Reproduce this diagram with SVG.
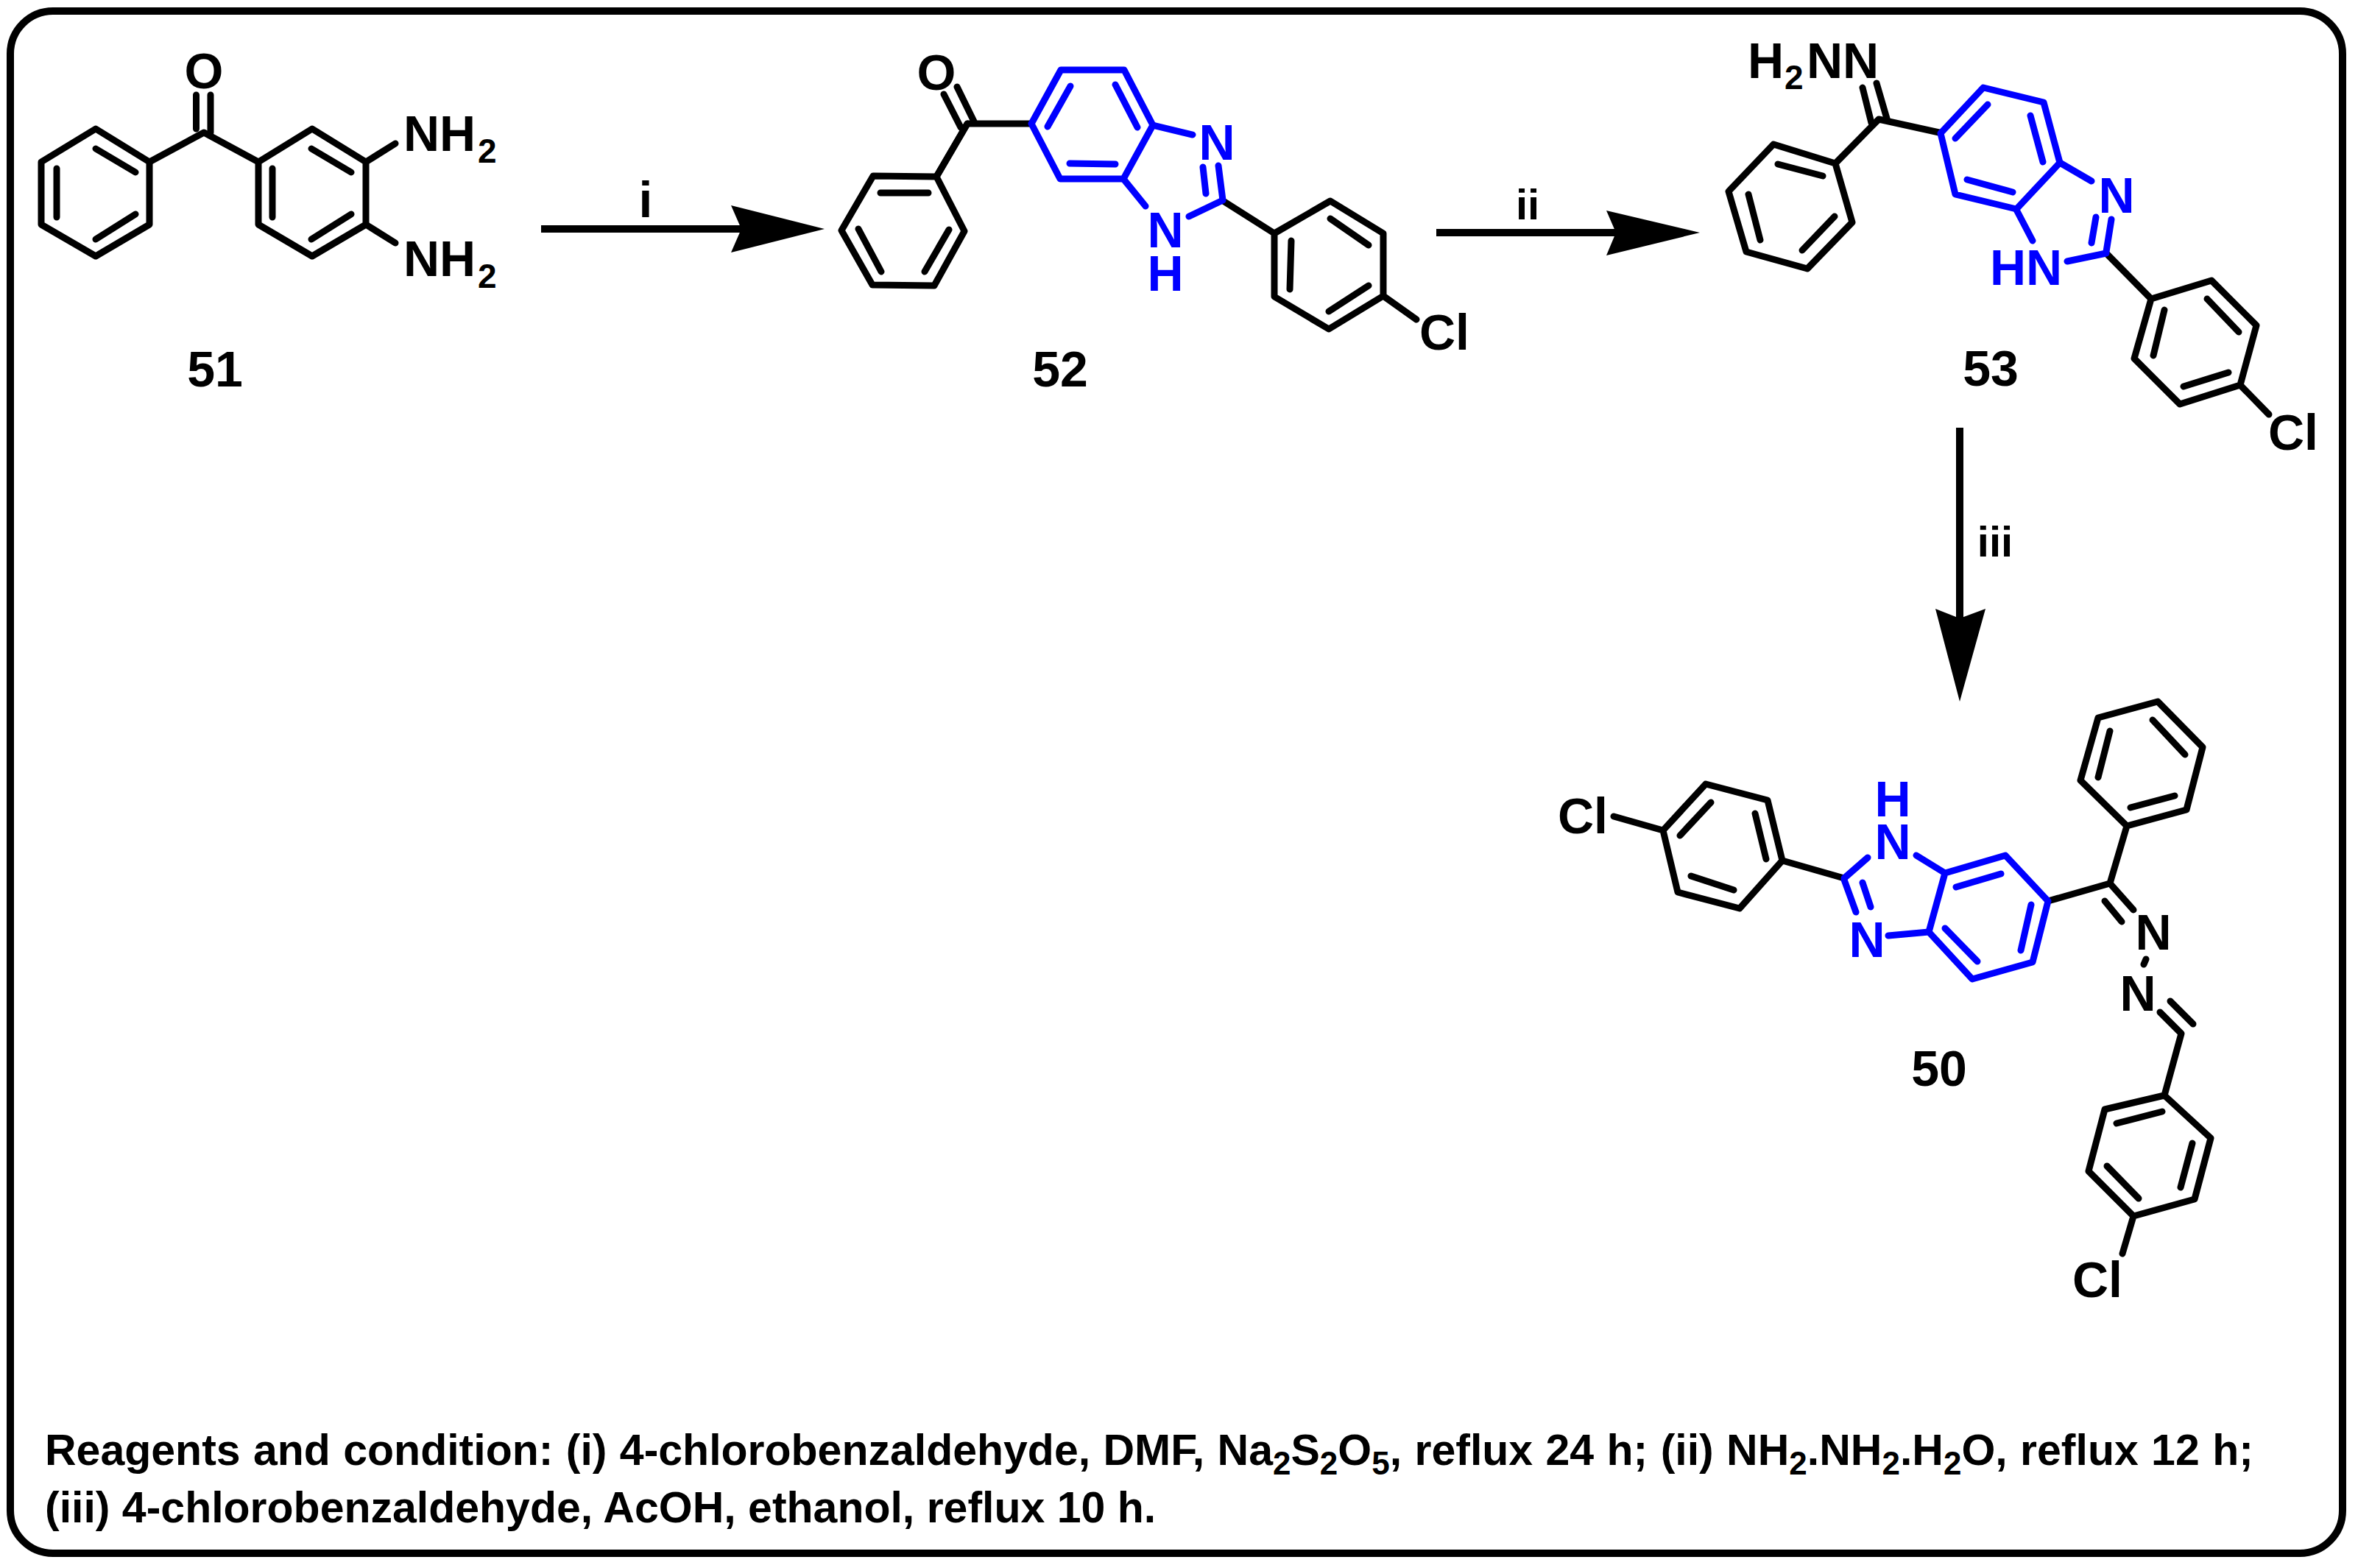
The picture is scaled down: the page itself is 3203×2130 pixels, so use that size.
<svg xmlns="http://www.w3.org/2000/svg" width="3203" height="2130" viewBox="0 0 3203 2130">
<style>
text{font-family:"Liberation Sans",Arial,sans-serif;font-weight:bold;fill:#000}
.a{font-size:68px}
.s{font-size:46px}
.l{font-size:68px}
.r{font-size:59px}
.u{font-size:44px}
.c{text-anchor:middle}
.b text{fill:#00f}
.k,.b path,.k path{fill:none;stroke:#000;stroke-width:9;stroke-linecap:round;stroke-linejoin:round}
.b path{stroke:#00f}
.arrow{stroke:#000;stroke-width:10;fill:none}
.head{fill:#000;stroke:none}
</style>
<rect id="frame" x="14" y="15" width="3168" height="2095" rx="58" ry="58" fill="#fff" stroke="#000" stroke-width="10"/>
<g id="connectors">
<path class="arrow" d="M735 311H1010"/><path class="head" d="M993 279L1120 311L993 343L1007 311Z"/>
<path class="arrow" d="M1951 316H2195"/><path class="head" d="M2182 286L2309 316L2182 347L2195 316Z"/>
<path class="arrow" d="M2662 581V840"/><path class="head" d="M2629 827L2662 953L2697 827L2662 840Z"/>
<text class="l c" x="877" y="295">i</text>
<text class="c" x="2075" y="298" style="font-size:58px">ii</text>
<text class="c" x="2710" y="756" style="font-size:58px">iii</text>
</g>
<g id="mol51">
<g class="k"><path d="M130 175L203 220V305L130 348L56 305V220ZM130 202L184 234M184 291L130 325M77 229V295"/>
<path d="M203 220L277 180L351 220L424 175L497 220V305L424 348L351 305V220M423 202L477 234M477 291L423 325M370 229V295"/>
<path d="M266.500 129V175M286 129V180M497 220L537 195M497 305L537 330"/></g>
<text class="a c" x="277" y="120">O</text>
<text class="a" x="548" y="205">NH</text><text class="s" x="649" y="221">2</text>
<text class="a" x="548" y="375">NH</text><text class="s" x="649" y="391">2</text>
<text class="l c" x="292" y="525">51</text>
</g>
<g id="mol52">
<g class="k"><path d="M1401 168H1314L1272 240L1186 239L1143 313L1185 387L1269 388L1310 314L1272 240M1196 262H1261M1166 311L1197 369M1289 312L1256 369"/>
<path d="M1314 168L1272 240M1305 173L1282 128M1323 165L1300 118"/>
<path d="M1660 272L1731 317L1807 273L1879 317V402L1805 447L1731 403V317M1807 297L1859 333M1754 327L1752 393M1859 388L1805 423M1879 402L1924 434"/></g>
<g class="b"><path d="M1401 168L1441 95H1527L1566 170L1526 243H1440ZM1454 117L1423 172M1515 115L1545 173M1453 222L1515 223"/>
<path d="M1566 170L1620 183M1655 225L1661 272M1634 227L1638 263M1661 272L1615 294M1526 243L1556 280"/>
<text class="a c" x="1653" y="217">N</text><text class="a c"><tspan x="1583" y="336">N</tspan><tspan x="1583" y="395">H</tspan></text></g>
<text class="a c" x="1272" y="122">O</text>
<text class="a" x="1928" y="475">Cl</text>
<text class="l c" x="1440" y="525">52</text>
</g>
<g id="mol53">
<g class="k"><path d="M2634 180L2552 162L2493 222L2409 196L2348 260L2372 342L2455 365L2516 302L2493 222M2415 223L2476 239M2375 264L2391 326M2492 294L2448 340"/>
<path d="M2549 113L2563 161M2530 119L2542 167"/>
<path d="M2861 344L2922 406L3004 381L3065 442L3043 523L2961 549L2899 487L2922 406M2998 406L3041 451M2940 421L2925 483M2966 525L3027 506M3043 523L3082 563"/></g>
<g class="b"><path d="M2636 181L2694 119L2776 139L2798 221L2739 284L2656 264ZM2700 142L2656 188M2758 157L2775 220M2672 244L2734 261"/>
<path d="M2798 221L2841 246M2739 285L2761 327M2868 298L2861 342M2847 295L2841 330M2861 344L2808 355"/>
<text class="a c" x="2875" y="289">N</text><text class="a" x="2703" y="387">HN</text></g>
<text class="a" x="2374" y="106">H</text><text class="s" x="2424" y="121">2</text><text class="a" x="2454" y="106">NN</text>
<text class="a" x="3081" y="611">Cl</text>
<text class="l c" x="2704" y="524">53</text>
</g>
<g id="mol50">
<g class="k"><path d="M2192 1109L2259 1128L2317 1065L2401 1087L2421 1169L2363 1234L2279 1212L2259 1128M2324 1090L2282 1135M2384 1105L2399 1167M2297 1190L2355 1209M2421 1169L2505 1193"/>
<path d="M2782 1224L2866 1200L2889 1122L2826 1060L2850 975L2931 953L2992 1015L2970 1100L2889 1122M2866 993L2850 1056M2924 978L2968 1025M2894 1097L2954 1081"/>
<path d="M2866 1200L2898 1236M2859 1224L2882 1252M2915 1303L2912 1310M2934 1375L2963 1404M2948 1360L2979 1391M2963 1404L2940 1488L2859 1507L2837 1591L2898 1652L2981 1629L3003 1546L2940 1488M2937 1510L2875 1526M2862 1584L2905 1628M2978 1553L2962 1613M2898 1652L2883 1703"/></g>
<g class="b"><path d="M2642 1186L2724 1162L2782 1224L2761 1307L2679 1330L2620 1266ZM2657 1205L2718 1187M2759 1229L2745 1291M2642 1261L2686 1306"/>
<path d="M2505 1193L2537 1165M2603 1162L2642 1186M2620 1266L2565 1271M2505 1195L2521 1239M2530 1199L2541 1232"/>
<text class="a c"><tspan x="2571" y="1109">H</tspan><tspan x="2571" y="1167">N</tspan></text><text class="a c" x="2536" y="1300">N</text></g>
<text class="a" x="2116" y="1132">Cl</text>
<text class="a c" x="2925" y="1290">N</text><text class="a c" x="2904" y="1373">N</text>
<text class="a" x="2815" y="1762">Cl</text>
<text class="l c" x="2634" y="1475">50</text>
</g>
<g id="caption">
<text class="r" x="61" y="1990" word-spacing="1">Reagents and condition: (i) 4-chlorobenzaldehyde, DMF, Na<tspan class="u" dy="13">2</tspan><tspan dy="-13">S</tspan><tspan class="u" dy="13">2</tspan><tspan dy="-13">O</tspan><tspan class="u" dy="13">5</tspan><tspan dy="-13">, reflux 24 h; (ii) NH</tspan><tspan class="u" dy="13">2</tspan><tspan dy="-13">.NH</tspan><tspan class="u" dy="13">2</tspan><tspan dy="-13">.H</tspan><tspan class="u" dy="13">2</tspan><tspan dy="-13">O, reflux 12 h;</tspan></text>
<text class="r" x="61" y="2068">(iii) 4-chlorobenzaldehyde, AcOH, ethanol, reflux 10 h.</text>
</g>
</svg>
